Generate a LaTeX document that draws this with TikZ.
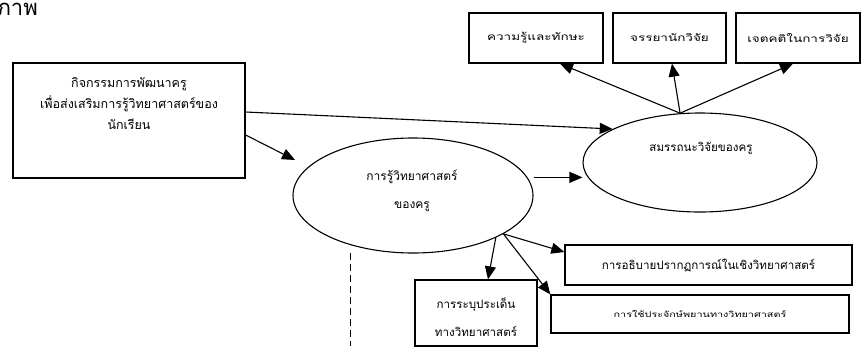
\documentclass[tikz,border=0pt]{standalone}
\usepackage{fontspec}
\newfontfamily\thaifont[Script=Thai]{Loma}
\newfontfamily\thaiwide[Script=Thai,FakeStretch=1.35]{Loma}
\usetikzlibrary{arrows.meta,shapes.geometric}
\begin{document}
\begin{tikzpicture}[x=1pt,y=-1pt,
  every node/.style={font=\thaifont\fontsize{11.6}{13}\selectfont},
  box/.style={draw,line width=1.3pt,inner sep=0pt},
  oval/.style={draw,ellipse,line width=1.1pt,inner sep=0pt},
  txt/.style={align=center,inner sep=0pt},
  arr/.style={line width=1.1pt,-{Triangle[length=13pt,width=11pt]}},
  dashline/.style={line width=1pt,dash pattern=on 7pt off 4pt}
]
\useasboundingbox (0,0) rectangle (864,346);

% heading fragment at the top left
\node[txt,anchor=east,font=\thaifont\fontsize{22}{24}\selectfont] (head) at (38,9) {ภาพ};

% source activity box
\node[box,minimum width=232pt,minimum height=115pt] (src) at (129,120.5) {};
\node[txt,font=\thaifont\fontsize{12.5}{21}\selectfont] (srctext) at (129,104)
  {กิจกรรมการพัฒนาครู\\เพื่อส่งเสริมการรู้วิทยาศาสตร์ของ\\นักเรียน};

% top component boxes
\node[box,minimum width=134pt,minimum height=50pt,font=\thaiwide\fontsize{10}{12}\selectfont] (k1) at (536,38) {ความรู้และทักษะ};
\node[box,minimum width=113pt,minimum height=50pt,font=\thaiwide\fontsize{10}{12}\selectfont] (k2) at (669.5,38) {จรรยานักวิจัย};
\node[box,minimum width=124pt,minimum height=50pt,font=\thaiwide\fontsize{10}{12}\selectfont] (k3) at (798,38) {เจตคติในการวิจัย};

% the two latent constructs
\node[oval,minimum width=240pt,minimum height=115pt] (lit) at (413,195.5) {};
\node[txt,font=\thaifont\fontsize{12}{28}\selectfont] (littext) at (412,191)
  {การรู้วิทยาศาสตร์\\ของครู};
\node[oval,minimum width=234pt,minimum height=99pt] (res) at (700,162.5) {};
\node[txt] (restext) at (701,148) {สมรรถนะวิจัยของครู};

% bottom component boxes
\node[box,minimum width=122pt,minimum height=66pt] (b1) at (476,313) {};
\node[txt,font=\thaifont\fontsize{11.6}{28}\selectfont] (b1text) at (476,317)
  {การระบุประเด็น\\ทางวิทยาศาสตร์};
\node[box,minimum width=287pt,minimum height=40pt] (b2) at (708.5,265) {การอธิบายปรากฏการณ์ในเชิงวิทยาศาสตร์};
\node[box,minimum width=298pt,minimum height=38pt,font=\thaiwide\fontsize{8}{10}\selectfont] (b3) at (700,314) {การใช้ประจักษ์พยานทางวิทยาศาสตร์};

% connection points
\coordinate (hub) at (res.112);
\coordinate (hubB) at (lit.-23);
\coordinate (hubC) at (lit.-27);
\coordinate (litin) at (295,160);
\coordinate (dtop) at (350,253);
\coordinate (dbot) at (350,346);

% connectors
\draw[arr] ([yshift=8.5pt]src.east) -- (res.159);
\draw[arr] ([yshift=-14.5pt]src.east) -- (litin);
\draw[arr,shorten <=6pt] (lit.9.25) -- (res.west |- lit.9.25);

\draw[arr] (hub) -- ([xshift=24pt]k1.south);
\draw[arr] (hub) -- ([xshift=2.5pt]k2.south);
\draw[arr] (hub) -- ([xshift=-5pt]k3.south);

\draw[arr] (hubC) -- ([xshift=12pt]b1.north);
\draw[arr] (hubB) -- ([yshift=13pt]b2.west);
\draw[arr] (hubB) -- (b3.north west);

\draw[dashline] (dtop) -- (dbot);
\end{tikzpicture}
\end{document}
